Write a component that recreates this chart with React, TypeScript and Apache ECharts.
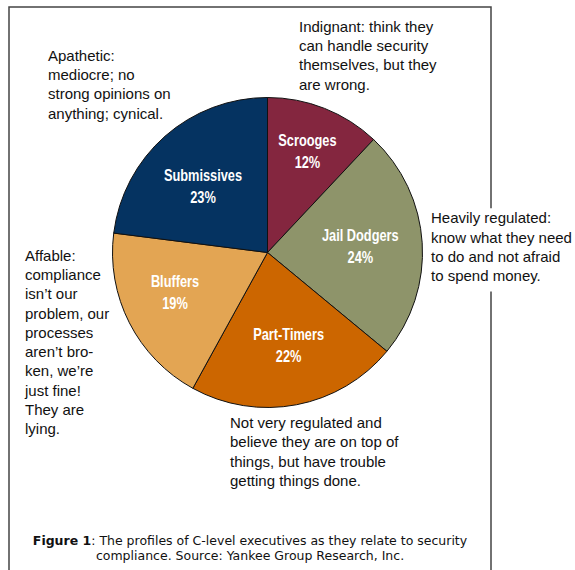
import React, { useEffect, useRef } from "react";
import * as echarts from "echarts";

// ---- data ----
const categories = ["Scrooges", "Jail Dodgers", "Part-Timers", "Bluffers", "Submissives"];
const shares = [12, 24, 22, 19, 23];
const sliceColors = ["#84263F", "#8E946A", "#CC6600", "#E3A553", "#053361"];

const noteApathetic = ["Apathetic:", "mediocre; no", "strong opinions on", "anything; cynical."];
const noteIndignant = ["Indignant: think they", "can handle security", "themselves, but they", "are wrong."];
const noteHeavily = ["Heavily regulated:", "know what they need", "to do and not afraid", "to spend money."];
const noteAffable = [
  "Affable:",
  "compliance",
  "isn\u2019t our",
  "problem, our",
  "processes",
  "aren\u2019t bro-",
  "ken, we\u2019re",
  "just fine!",
  "They are",
  "lying.",
];
const noteNotVery = [
  "Not very regulated and",
  "believe they are on top of",
  "things, but have trouble",
  "getting things done.",
];
const captionBold = "Figure 1";
const captionRest1 = ": The profiles of C-level executives as they relate to security";
const captionLine2 = "compliance. Source: Yankee Group Research, Inc.";

// ---- layout (not data) ----
const CX = 267.5;
const CY = 252.5;
const R = 155;
const LABEL_DIST = [0.7, 0.6, 0.615, 0.65, 0.595];
const LABEL_ANGLE_TWEAK = [0, 0, -2, 3.6, -3];

const noteFont = "15px 'Liberation Sans', Arial, sans-serif";
const LH = 19.3;
const capFamily = "'DejaVu Sans', Verdana, sans-serif";

function note(lines: string[], x: number, y: number, extra: any = {}) {
  return {
    type: "text",
    x,
    y,
    z: 10,
    style: {
      text: lines.join("\n"),
      font: noteFont,
      fill: "#111",
      lineHeight: LH,
      verticalAlign: "top",
      align: "left",
      ...extra,
    },
  };
}

export default function App() {
  const ref = useRef<HTMLDivElement>(null);
  useEffect(() => {
    if (!ref.current) return;
    const chart = echarts.init(ref.current, undefined, { renderer: "svg" });
    const total = shares.reduce((a, b) => a + b, 0);

    // slice labels: condensed white bold text placed on each slice's mid-angle
    let cum = 0;
    const sliceLabels = categories.map((name, i) => {
      const mid = ((cum + shares[i] / 2) / total) * 360 + LABEL_ANGLE_TWEAK[i];
      cum += shares[i];
      const a = (mid * Math.PI) / 180;
      const d = R * LABEL_DIST[i];
      return {
        type: "text",
        x: CX + d * Math.sin(a),
        y: CY - d * Math.cos(a),
        scaleX: 0.8,
        z: 100,
        silent: true,
        style: {
          text: name + "\n" + shares[i] + "%",
          fontFamily: "'Liberation Sans', Arial, sans-serif",
          fontWeight: "bold",
          fontSize: 16,
          lineHeight: 21.5,
          fill: "#ffffff",
          align: "center",
          verticalAlign: "middle",
        },
      };
    });

    const option: any = {
      animation: false,
      backgroundColor: "#ffffff",
      graphic: [
        {
          type: "rect",
          z: 1,
          shape: { x: 9, y: 7, width: 482, height: 620 },
          style: { fill: "none", stroke: "#444", lineWidth: 1.5 },
        },
        note(noteApathetic, 48, 45.5),
        note(noteIndignant, 299, 16.5),
        note(noteHeavily, 431, 208.3, { backgroundColor: "#ffffff", padding: [0, 0, 6, 0] }),
        note(noteAffable, 25, 245.5),
        note(noteNotVery, 230, 413),
        {
          type: "text",
          x: 250,
          y: 533.4,
          z: 10,
          style: {
            text: "{b|" + captionBold + "}" + captionRest1 + "\n" + captionLine2,
            fontSize: 12.5,
            fontFamily: capFamily,
            fill: "#111",
            lineHeight: 14.5,
            align: "center",
            verticalAlign: "top",
            rich: {
              b: { fontWeight: "bold", fontSize: 12.5, fontFamily: capFamily, fill: "#111", lineHeight: 14.5 },
            },
          },
        },
        ...sliceLabels,
      ],
      series: [
        {
          type: "pie",
          center: [CX, CY],
          radius: [0, R],
          startAngle: 90,
          clockwise: true,
          avoidLabelOverlap: false,
          silent: true,
          data: categories.map((name, i) => ({
            name,
            value: shares[i],
            itemStyle: { color: sliceColors[i] },
          })),
          itemStyle: { borderColor: "#111", borderWidth: 1 },
          label: { show: false },
          labelLine: { show: false },
        },
      ],
    };
    chart.setOption(option);
    return () => chart.dispose();
  }, []);
  return (
    <div
      ref={ref}
      style={{ position: "fixed", left: 0, top: 0, width: 575, height: 570, background: "#fff" }}
    />
  );
}
